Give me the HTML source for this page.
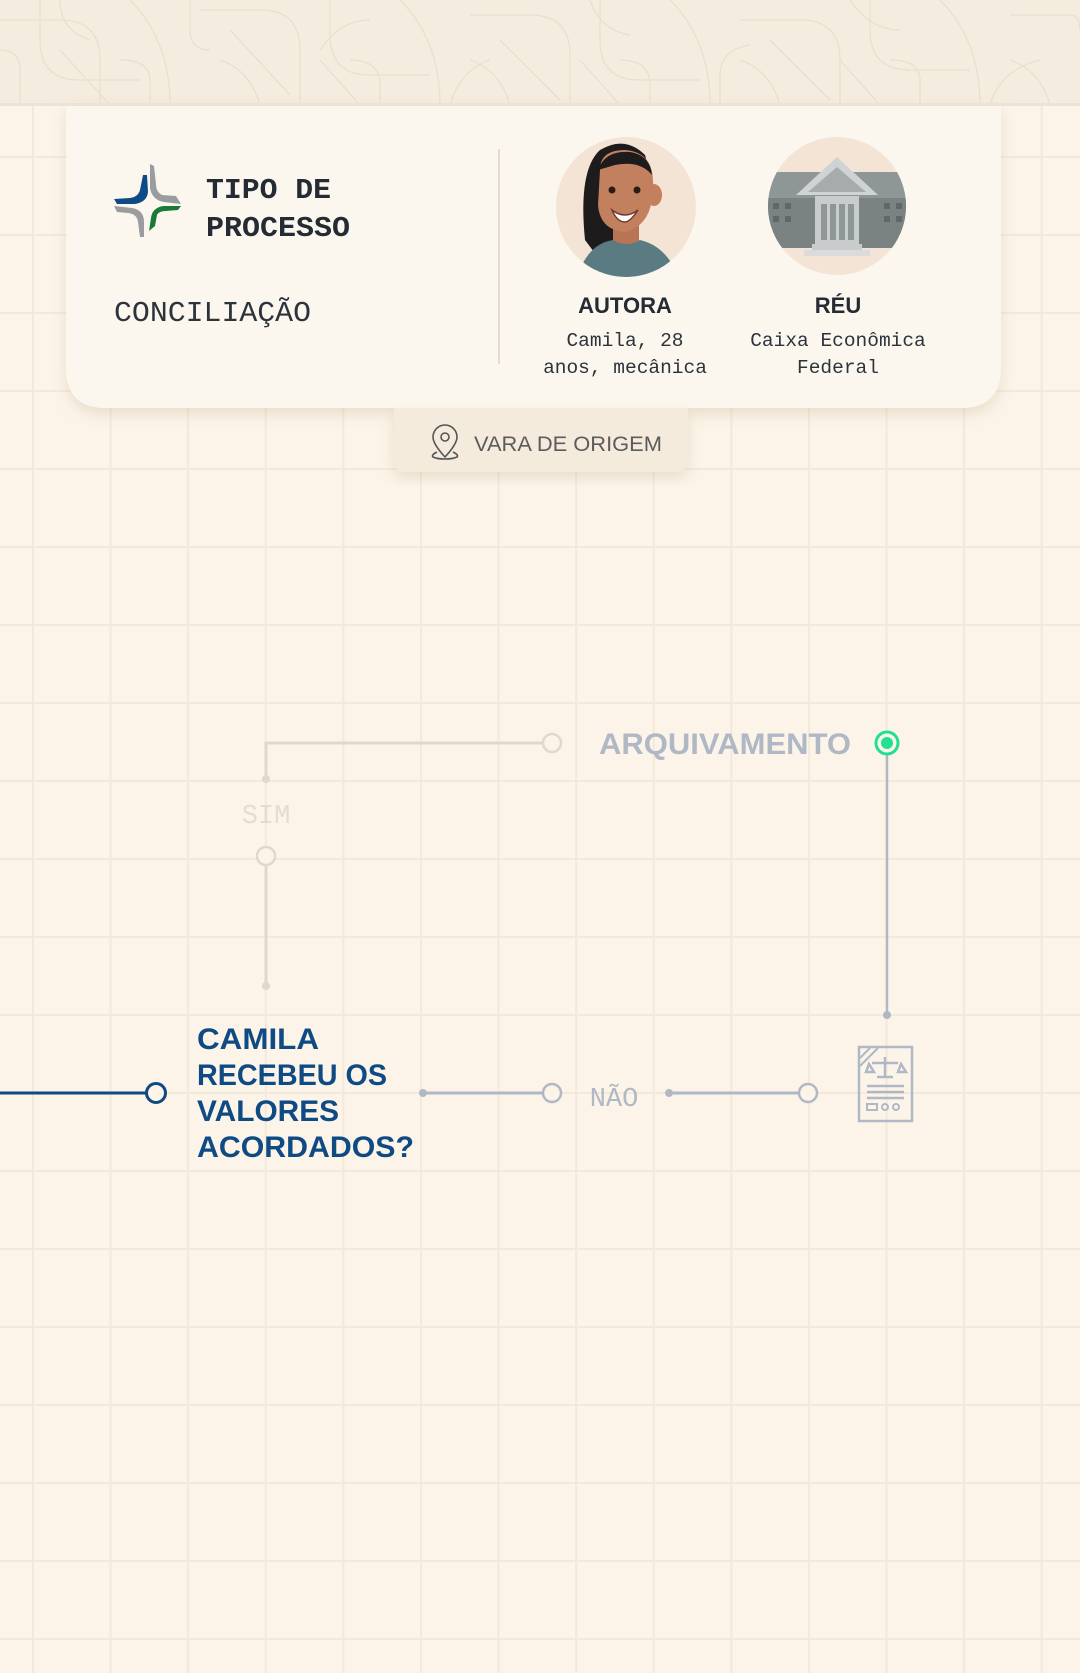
<!DOCTYPE html>
<html><head><meta charset="utf-8">
<style>
html,body{margin:0;padding:0}
body{width:1080px;height:1673px;overflow:hidden;background:#fcf4e8;position:relative;font-family:"Liberation Sans",sans-serif}
#grid{position:absolute;left:0;top:0;width:1080px;height:1673px;
background-image:linear-gradient(to right,#f3e9da 0,#f3e9da 2px,transparent 2px),linear-gradient(to bottom,#f3e9da 0,#f3e9da 2px,transparent 2px);
background-size:77.6px 78px;background-position:32px 0px}
svg{position:absolute;left:0;top:0}
</style></head>
<body>
<div id="grid"></div>
<svg width="1080" height="1673" viewBox="0 0 1080 1673">
  <defs>
    <filter id="sh" x="-10%" y="-10%" width="120%" height="130%"><feDropShadow dx="0" dy="6" stdDeviation="7" flood-color="#b09a78" flood-opacity="0.25"/></filter>
    <clipPath id="c1"><circle cx="626" cy="207" r="70"/></clipPath>
    <clipPath id="c2"><circle cx="837" cy="206" r="69"/></clipPath>
  </defs>
  <g>
    <rect x="0" y="0" width="1080" height="105" fill="#f4ecdf"/>
    <g fill="none" stroke="#e8dfcf" stroke-width="1.3">
      <path d="M0 20 H60 Q100 20 100 60 V105 M40 0 V40 Q40 80 80 80 H140 M130 0 Q170 40 170 105 M200 10 H260 Q300 10 300 50 V105 M230 30 L290 95 M330 0 V35 Q330 75 370 75 H430 M400 0 Q440 40 440 105 M470 15 H530 Q570 15 570 55 V105 M500 40 L560 100 M600 0 V40 Q600 80 640 80 H700 M670 0 Q710 40 710 105 M740 20 H800 Q840 20 840 60 V105 M770 40 L830 100 M870 0 V30 Q870 70 910 70 H970 M940 0 Q980 40 980 105 M1010 15 H1070 Q1080 15 1080 30"/>
      <path d="M20 105 V70 Q20 50 0 50 M150 105 V80 Q150 60 120 60 M260 105 Q250 70 220 60 M380 105 V85 Q380 60 350 60 M510 105 Q500 70 470 60 M650 105 V85 Q650 60 620 60 M780 105 Q770 70 740 60 M920 105 V80 Q920 60 890 60 M1050 105 Q1040 70 1010 60"/>
      <path d="M60 0 Q60 30 90 40 M190 0 V30 Q190 50 210 50 M320 50 Q340 20 370 20 M450 105 Q460 70 490 60 M590 0 Q600 30 630 35 M720 105 V75 Q720 50 750 45 M850 0 Q870 30 900 30 M990 105 Q1000 70 1040 60 M110 105 L60 50 M360 105 L320 60 M620 105 L580 60 M880 105 L840 60"/>
    </g>
  </g>
  <path d="M66 105 H1001 V368 Q1001 408 961 408 H106 Q66 408 66 368 Z" fill="#fbf7ef" filter="url(#sh)"/>
  <rect x="0" y="103" width="1080" height="3" fill="#ece3d4"/>
  <g>
    <path d="M150 164 L150 188 Q152 200 164 202 L181 204 L176 196 L162 195 Q156 192 156 184 L154 166 Z" fill="#9a9c9f"/>
    <path d="M143 175 L140 190 Q138 197 130 198 L114 199 L117 204 L135 204 Q147 202 148 192 L147 175 Z" fill="#0e4a86"/>
    <path d="M181 206 L163 206 Q152 208 151 218 L149 231 L155 226 L157 215 Q159 211 166 211 L178 210 Z" fill="#1a7a3a"/>
    <path d="M114 206 L132 208 Q144 210 144 222 L144 237 L140 237 L138 222 Q137 214 128 213 L117 212 Z" fill="#9a9c9f"/>
  </g>
  <g font-family="'Liberation Mono',monospace" fill="#252b33">
    <text x="206" y="198" font-size="29" font-weight="bold" textLength="125" lengthAdjust="spacingAndGlyphs">TIPO DE</text>
    <text x="206" y="236" font-size="29" font-weight="bold" textLength="144" lengthAdjust="spacingAndGlyphs">PROCESSO</text>
    <text x="114" y="321" font-size="29" fill="#2c333b" textLength="197" lengthAdjust="spacingAndGlyphs">CONCILIAÇÃO</text>
  </g>
  <line x1="499" y1="149" x2="499" y2="364" stroke="#e5dccd" stroke-width="2"/>
  <g>
    <circle cx="626" cy="207" r="70" fill="#f4e4d6"/>
    <g clip-path="url(#c1)">
      <path d="M585 240 Q578 170 600 150 Q625 135 645 155 Q652 175 650 200 L600 260 Z" fill="#1d1b1b"/>
      <ellipse cx="654" cy="195" rx="8" ry="11" fill="#c47f5e"/>
      <rect x="613" y="225" width="26" height="30" fill="#b87455"/>
      <path d="M600 170 Q600 150 625 150 Q652 152 653 180 Q655 225 625 232 Q600 230 598 205 Z" fill="#c3805e"/>
      <path d="M598 170 Q605 150 630 152 Q650 155 652 175 Q640 160 615 165 Z" fill="#1d1b1b"/>
      <path d="M572 300 Q580 245 613 240 Q626 248 640 240 Q675 248 685 300 Z" fill="#5b7b82"/>
      <path d="M612 210 Q625 220 638 210 Q630 222 625 222 Q617 222 612 210 Z" fill="#fff" stroke="#6d3a33" stroke-width="1.5"/>
      <circle cx="612" cy="190" r="3.5" fill="#2b1b17"/><circle cx="637" cy="190" r="3.5" fill="#2b1b17"/>
    </g>
  </g>
  <g>
    <circle cx="837" cy="206" r="69" fill="#f4e4d6"/>
    <g clip-path="url(#c2)">
      <rect x="765" y="172" width="150" height="75" fill="#8f9696"/>
      <rect x="765" y="198" width="150" height="50" fill="#7a8282"/>
      <rect x="815" y="196" width="44" height="48" fill="#c9cccc"/>
      <path d="M837 157 L878 195 L796 195 Z" fill="#d0d3d3"/>
      <path d="M837 167 L866 192 L808 192 Z" fill="#a6abab"/>
      <rect x="812" y="244" width="50" height="6" fill="#c9cccc"/>
      <rect x="804" y="250" width="66" height="6" fill="#dadcdc"/>
      <g fill="#8f9696"><rect x="821" y="204" width="6" height="36"/><rect x="830" y="204" width="6" height="36"/><rect x="839" y="204" width="6" height="36"/><rect x="848" y="204" width="6" height="36"/></g>
      <g fill="#5f6767"><rect x="773" y="203" width="6" height="6"/><rect x="785" y="203" width="6" height="6"/><rect x="773" y="216" width="6" height="6"/><rect x="785" y="216" width="6" height="6"/><rect x="884" y="203" width="6" height="6"/><rect x="896" y="203" width="6" height="6"/><rect x="884" y="216" width="6" height="6"/><rect x="896" y="216" width="6" height="6"/></g>
    </g>
  </g>
  <g text-anchor="middle">
    <text x="625" y="313" font-size="22" font-weight="bold" fill="#252b33">AUTORA</text>
    <text x="838" y="313" font-size="22" font-weight="bold" fill="#252b33">RÉU</text>
    <g font-family="'Liberation Mono',monospace" font-size="19.5" fill="#2c333b">
      <text x="625" y="346">Camila, 28</text>
      <text x="625" y="373">anos, mecânica</text>
      <text x="838" y="346">Caixa Econômica</text>
      <text x="838" y="373">Federal</text>
    </g>
  </g>
  <g>
    <path d="M394 408 H688 V460 Q688 472 676 472 H406 Q394 472 394 460 Z" fill="#f4ebdd" filter="url(#sh)"/>
    <g fill="none" stroke="#555" stroke-width="1.6">
      <path d="M445 457 Q433 444 433 437 A12 12 0 0 1 457 437 Q457 444 445 457 Z"/>
      <circle cx="445" cy="437" r="4"/>
      <path d="M437 452 Q431 455 433 457 Q437 459 445 459 Q453 459 457 457 Q459 455 453 452"/>
    </g>
    <text x="474" y="451" font-size="21" fill="#5c5c5c" textLength="188" lengthAdjust="spacingAndGlyphs">VARA DE ORIGEM</text>
  </g>
  <g stroke="#e0d8cc" stroke-width="3" fill="none">
    <path d="M552 743 H266 V779"/>
    <circle cx="552" cy="743" r="9" fill="#fcf4e8" stroke-width="2.5"/>
    <circle cx="266" cy="779" r="4" fill="#e0d8cc" stroke="none"/>
    <line x1="266" y1="856" x2="266" y2="986"/>
    <circle cx="266" cy="856" r="9" fill="#fcf4e8" stroke-width="2.5"/>
    <circle cx="266" cy="986" r="4" fill="#e0d8cc" stroke="none"/>
  </g>
  <text x="266" y="823" text-anchor="middle" font-family="'Liberation Mono',monospace" font-size="27" fill="#e3dcd1">SIM</text>
  <text x="599" y="754" font-size="30" font-weight="bold" fill="#b0b8c6" textLength="252" lengthAdjust="spacingAndGlyphs">ARQUIVAMENTO</text>
  <line x1="887" y1="755" x2="887" y2="1015" stroke="#b0b8c6" stroke-width="2.5"/>
  <circle cx="887" cy="1015" r="4" fill="#b0b8c6"/>
  <circle cx="887" cy="743" r="11" fill="#fcf4e8" stroke="#22e092" stroke-width="3"/>
  <circle cx="887" cy="743" r="6" fill="#22e092"/>
  <g fill="none" stroke="#b0b8c6" stroke-width="2.5">
    <rect x="859" y="1047" width="53" height="74"/>
    <path d="M860 1058 L870 1048 M860 1066 L878 1048" stroke-width="2"/>
    <path d="M885 1057 V1077 M877 1077 H893 M872 1063 H898 M869 1064 L866 1072 H874 Z M901 1064 L898 1072 H906 Z"/>
    <path d="M867 1086 H904 M867 1092 H904 M867 1098 H904" stroke-width="2.5"/>
    <rect x="867" y="1104" width="10" height="6" stroke-width="2"/>
    <circle cx="885" cy="1107" r="3" stroke-width="2"/><circle cx="896" cy="1107" r="3" stroke-width="2"/>
  </g>
  <line x1="0" y1="1093" x2="146" y2="1093" stroke="#0d4a84" stroke-width="3"/>
  <circle cx="156" cy="1093" r="9.5" fill="#fcf4e8" stroke="#0d4a84" stroke-width="3"/>
  <g font-size="30" font-weight="bold" fill="#0e4a84">
    <text x="197" y="1049" textLength="122" lengthAdjust="spacingAndGlyphs">CAMILA</text>
    <text x="197" y="1085" textLength="190" lengthAdjust="spacingAndGlyphs">RECEBEU OS</text>
    <text x="197" y="1121" textLength="142" lengthAdjust="spacingAndGlyphs">VALORES</text>
    <text x="197" y="1157" textLength="217" lengthAdjust="spacingAndGlyphs">ACORDADOS?</text>
  </g>
  <g stroke="#b0b8c6" stroke-width="3" fill="none">
    <line x1="423" y1="1093" x2="543" y2="1093"/>
    <circle cx="423" cy="1093" r="4" fill="#b0b8c6" stroke="none"/>
    <circle cx="552" cy="1093" r="9" fill="#fcf4e8" stroke-width="2.5"/>
    <line x1="669" y1="1093" x2="799" y2="1093"/>
    <circle cx="669" cy="1093" r="4" fill="#b0b8c6" stroke="none"/>
    <circle cx="808" cy="1093" r="9" fill="#fcf4e8" stroke-width="2.5"/>
  </g>
  <text x="614" y="1106" text-anchor="middle" font-family="'Liberation Mono',monospace" font-size="27" fill="#b0b8c6">NÃO</text>
</svg>
</body></html>
